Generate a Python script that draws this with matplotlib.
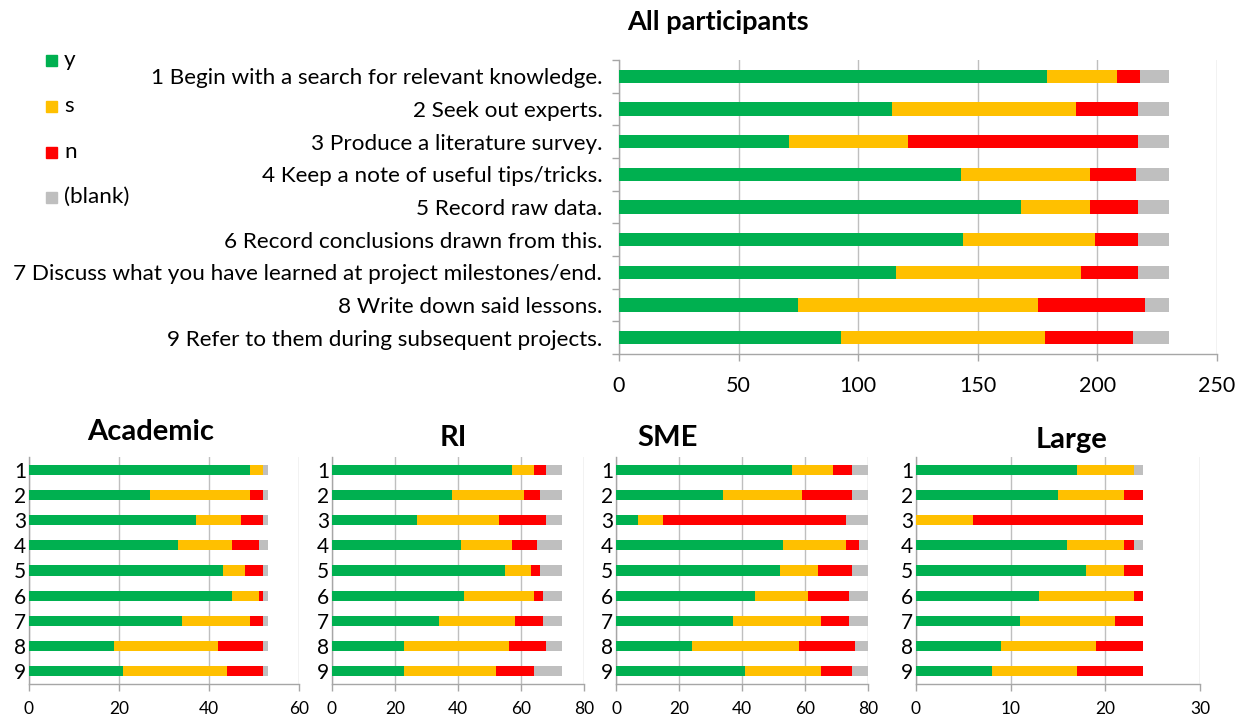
import matplotlib
matplotlib.use("Agg")
import matplotlib.pyplot as plt
import numpy as np

plt.rcParams['font.family'] = ['Lato', 'DejaVu Sans']

# Survey items
questions = [
    "1 Begin with a search for relevant knowledge.",
    "2 Seek out experts.",
    "3 Produce a literature survey.",
    "4 Keep a note of useful tips/tricks.",
    "5 Record raw data.",
    "6 Record conclusions drawn from this.",
    "7 Discuss what you have learned at project milestones/end.",
    "8 Write down said lessons.",
    "9 Refer to them during subsequent projects.",
]
item_numbers = ["1", "2", "3", "4", "5", "6", "7", "8", "9"]
answers = ["y", "s", "n", "(blank)"]

# All participants
all_y = [179, 114, 71, 143, 168, 144, 116, 75, 93]
all_s = [29, 77, 50, 54, 29, 55, 77, 100, 85]
all_n = [10, 26, 96, 19, 20, 18, 24, 45, 37]
all_blank = [12, 13, 13, 14, 13, 13, 13, 10, 15]

# Academic
acad_y = [49, 27, 37, 33, 43, 45, 34, 19, 21]
acad_s = [3, 22, 10, 12, 5, 6, 15, 23, 23]
acad_n = [0, 3, 5, 6, 4, 1, 3, 10, 8]
acad_blank = [1, 1, 1, 2, 1, 1, 1, 1, 1]

# RI
ri_y = [57, 38, 27, 41, 55, 42, 34, 23, 23]
ri_s = [7, 23, 26, 16, 8, 22, 24, 33, 29]
ri_n = [4, 5, 15, 8, 3, 3, 9, 12, 12]
ri_blank = [5, 7, 5, 8, 7, 6, 6, 5, 9]

# SME
sme_y = [56, 34, 7, 53, 52, 44, 37, 24, 41]
sme_s = [13, 25, 8, 20, 12, 17, 28, 34, 24]
sme_n = [6, 16, 58, 4, 11, 13, 9, 18, 10]
sme_blank = [5, 5, 7, 3, 5, 6, 6, 4, 5]

# Large
large_y = [17, 15, 0, 16, 18, 13, 11, 9, 8]
large_s = [6, 7, 6, 6, 4, 10, 10, 10, 9]
large_n = [0, 2, 18, 1, 2, 1, 3, 5, 7]
large_blank = [1, 0, 0, 1, 0, 0, 0, 0, 0]

colors = ["#00B050", "#FFC000", "#FF0000", "#BFBFBF"]
GRID = "#BFBFBF"
AXIS = "#A6A6A6"

W, H = 1248, 715
fig = plt.figure(figsize=(W / 100, H / 100), dpi=100)


def rect(left, right, top, bottom):
    return [left / W, 1 - bottom / H, (right - left) / W, (bottom - top) / H]


def stacked(ax, series, labels, xmax, step, bar_h, ylab_size, xlab_size,
            ytick_len, ylab_pad, xlab_pad):
    pos = np.arange(len(labels))
    left = np.zeros(len(labels))
    for vals, c in zip(series, colors):
        vals = np.asarray(vals, dtype=float)
        ax.barh(pos, vals, left=left, height=bar_h, color=c, zorder=3,
                linewidth=0)
        left += vals
    ax.set_xlim(0, xmax)
    ax.set_ylim(len(labels) - 0.5, -0.5)
    ax.set_xticks(np.arange(0, xmax + 0.01, step))
    ax.set_yticks(pos)
    ax.set_yticklabels(labels, fontsize=ylab_size, color="#000000")
    ax.tick_params(axis="x", labelsize=xlab_size, colors=AXIS, length=5,
                   width=1, labelcolor="#000000", pad=xlab_pad)
    ax.tick_params(axis="y", length=0, pad=ylab_pad)
    if ytick_len:
        ax.set_yticks(np.arange(-0.5, len(labels) + 0.5, 1), minor=True)
        ax.tick_params(axis="y", which="minor", length=ytick_len, width=1,
                       colors=AXIS)
    ax.grid(axis="x", color=GRID, linewidth=1, zorder=0)
    for side in ("top", "right"):
        ax.spines[side].set_visible(False)
    for side in ("left", "bottom"):
        ax.spines[side].set_color(AXIS)
        ax.spines[side].set_linewidth(1)
    ax.set_axisbelow(True)


# Main chart
ax_top = fig.add_axes(rect(619, 1217, 60, 354))
stacked(ax_top, [all_y, all_s, all_n, all_blank], questions, 250, 50, 0.4,
        16.2, 15.5, 5, 12, 11)
fig.text(718 / W, 1 - 22 / H, "All participants", ha="center", va="center",
         fontsize=19.5, fontweight="bold")

# Legend
legend_y = [60, 106, 152, 197]
for lab, c, yy in zip(answers, colors, legend_y):
    fig.patches.append(plt.Rectangle((46 / W, 1 - (yy + 6) / H), 11 / W, 11 / H,
                                     transform=fig.transFigure, color=c,
                                     figure=fig))
    fig.text(64 / W, 1 - yy / H, lab, ha="left", va="center", fontsize=16.2)

# Group charts
groups = [
    ("Academic", [acad_y, acad_s, acad_n, acad_blank], 60, 20, 28.7, 299.3, 151, 432),
    ("RI", [ri_y, ri_s, ri_n, ri_blank], 80, 20, 331.7, 584.3, 453, 438),
    ("SME", [sme_y, sme_s, sme_n, sme_blank], 80, 20, 616, 868, 668, 438),
    ("Large", [large_y, large_s, large_n, large_blank], 30, 10, 916, 1200, 1071, 440),
]
for name, series, xmax, step, l, r, tx, ty in groups:
    ax = fig.add_axes(rect(l, r, 457, 684))
    stacked(ax, series, item_numbers, xmax, step, 0.4, 15, 12.5, 0, 2, 7)
    fig.text(tx / W, 1 - ty / H, name, ha="center", va="center",
             fontsize=21, fontweight="bold")

fig.savefig("out.png", dpi=100)
